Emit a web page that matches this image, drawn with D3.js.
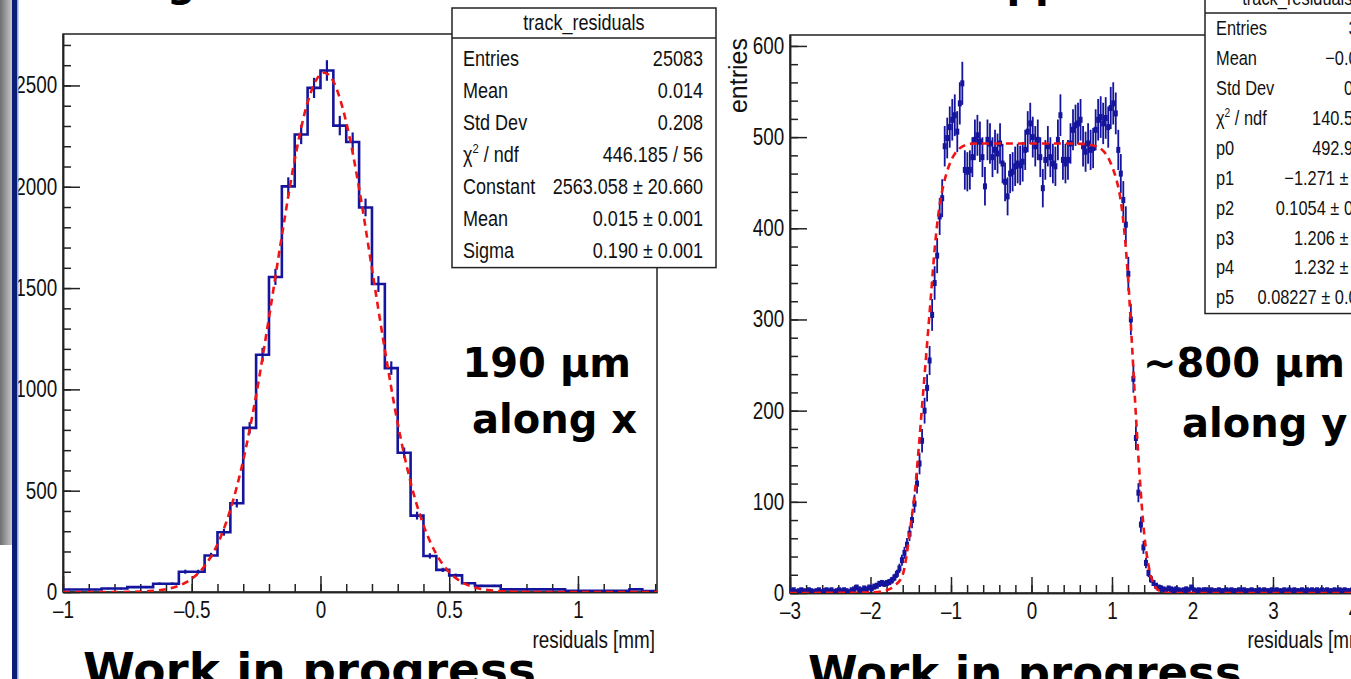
<!DOCTYPE html>
<meta charset="utf-8">
<head>
    <title>track residuals along x and y</title>
    <script type="text/javascript" src="https://cdn.jsdelivr.net/npm/d3@7/dist/d3.min.js"></script>
    <style>
        body { margin: 0; background: #fff; overflow: hidden; }
        .narrow { font-family: "Liberation Sans", Arial, sans-serif; fill: #111; }
        .axis text { font-family: "Liberation Sans", Arial, sans-serif; font-size: 23px; fill: #111; }
        .axis path, .axis line { stroke: #222; stroke-width: 1.5px; }
        .big { font-family: "DejaVu Sans", Verdana, sans-serif; font-weight: bold; fill: #000; }
    </style>
</head>
<body>
<svg id="slide" width="1351" height="679"></svg>
<script>
// ---- left histogram: residuals along x, bins of 0.05 from -1
const leftStart = -1, leftWidth = 0.05;
const leftCounts = [12, 12, 12, 17, 17, 24, 24, 41, 41, 100, 100, 180, 295, 438, 810, 1171,
    1555, 2002, 2258, 2488, 2574, 2302, 2221, 1898, 1520, 1105, 687, 377, 178, 109, 82, 43,
    30, 30, 13, 13, 13, 13, 13, 6, 6, 6, 6, 6, 13, 5];
// gaussian fit as it appears on the plot
const leftFitX = [-1, -0.9, -0.8, -0.7, -0.65, -0.6, -0.55, -0.5, -0.45, -0.4, -0.35, -0.3, -0.25, -0.2,
    -0.15, -0.1, -0.05, 0, 0.015, 0.05, 0.1, 0.15, 0.2, 0.25, 0.3, 0.35, 0.4, 0.45, 0.5, 0.55, 0.6,
    0.65, 0.7, 0.8, 0.9, 1.0, 1.1, 1.2, 1.31];
const leftFitY = [0, 0, 0, 2, 6, 14, 31, 65, 128, 236, 406, 650, 971, 1354,
    1758, 2134, 2417, 2555, 2563, 2520, 2319, 1993, 1595, 1196, 832, 542, 330, 187, 98, 48, 22,
    10, 4, 0.5, 0, 0, 0, 0, 0];
const leftStatLabels = ["Entries", "Mean", "Std Dev", "chi", "Constant", "Mean", "Sigma"];
const leftStatValues = ["25083", "0.014", "0.208", "446.185 / 56", "2563.058 ± 20.660", "0.015 ± 0.001", "0.190 ± 0.001"];

// ---- right histogram: residuals along y, bins of 1/32 from -3
const rightStart = -3, rightWidth = 1 / 32;
const rightCounts = [
    2, 3, 1, 2, 3, 2, 1, 3, 2, 1, 2, 3, 1, 2, 3, 2, 3, 1, 2, 3,
    2, 3, 2, 1, 3, 4, 6, 4, 3, 5, 4, 6, 5, 7, 8, 10, 11, 10,
    11, 12, 14, 17, 21, 27, 36, 44, 53, 65, 80, 98, 120, 142, 167, 200, 225, 255, 305, 340, 370,
    413, 433, 490, 499, 511, 519, 524, 506, 537, 559, 464, 462, 464, 478, 497, 502, 495, 478,
    446, 497, 493, 478, 486, 482, 493, 471, 451, 435, 460, 462, 468, 471, 469, 473, 486, 506,
    515, 500, 490, 497, 478, 444, 475, 490, 478, 471, 468, 497, 524, 475, 471, 475, 493, 508,
    513, 515, 519, 490, 484, 493, 486, 488, 508, 519, 522, 515, 521, 511, 532, 537, 526, 486,
    460, 431, 404,
    350, 300, 235, 170, 110, 75, 50, 33, 22, 15, 11, 8, 6, 5, 4,
    3, 5, 4, 3, 4, 3, 2, 3, 4, 3, 6, 3, 2, 3, 2, 3, 3, 2, 3, 2,
    2, 3, 2, 2, 3, 2, 3, 2, 2, 3, 2, 3, 2, 2, 3, 2, 2, 3, 2, 3,
    2, 2, 3, 2, 3, 2, 2, 3, 2, 3, 2, 3, 2, 2, 3, 2, 3, 2, 3, 2,
    3, 2, 3, 2, 3, 2, 2, 3, 2, 3, 2, 3, 2, 2, 3];
const rightFitX = [-3, -2, -1.8, -1.7, -1.6, -1.5, -1.45, -1.4, -1.35, -1.3, -1.25, -1.2, -1.15,
    -1.1, -1.05, -1.0, -0.95, -0.9, -0.85, -0.8, -0.7, -0.5, 0, 0.5, 0.7, 0.8, 0.85, 0.9, 0.95, 1.0,
    1.05, 1.1, 1.15, 1.2, 1.25, 1.3, 1.35, 1.4, 1.45, 1.5, 1.55, 1.6, 1.7, 4.23];
const rightFitY = [0, 0.5, 3, 8, 20, 75, 110, 160, 215, 270, 325, 380, 420,
    445, 462, 474, 482, 487, 490, 492, 493, 493, 493, 493, 492, 490, 488, 484, 478, 468,
    455, 435, 400, 345, 270, 190, 120, 65, 32, 14, 5, 2, 0, 0];
const rightStatLabels = ["Entries", "Mean", "Std Dev", "chi", "p0", "p1", "p2", "p3", "p4", "p5"];
const rightStatValues = ["35847", "−0.01042", "0.7835", "140.5 / 146", "492.9 ± 1.7", "−1.271 ± 0.003",
    "0.1054 ± 0.0021", "1.206 ± 0.003", "1.232 ± 0.003", "0.08227 ± 0.00221"];

const blue = "#14149c", red = "#f01414";
const NARROW = 0.82;
const svg = d3.select("#slide");
const minus = d => (d < 0 ? "–" + Math.abs(d) : String(d));

// scales
const xL = d3.scaleLinear().domain([-1, 1.307]).range([63, 657]);
const yL = d3.scaleLinear().domain([0, 2754]).range([592, 34]);
const xR = d3.scaleLinear().domain([-3, 4.23]).range([790, 1372]);
const yR = d3.scaleLinear().domain([0, 612]).range([593, 35]);

// condensed helvetica-like text
function ntext(parent, x, y, anchor, size, str) {
    return parent.append("text").attr("class", "narrow")
        .attr("transform", `translate(${x},${y}) scale(${NARROW},1)`)
        .attr("text-anchor", anchor).style("font-size", size + "px").text(str);
}

function frame(x, y, id) {
    svg.append("clipPath").attr("id", id).append("rect")
        .attr("x", x.range()[0]).attr("y", y.range()[1])
        .attr("width", x.range()[1] - x.range()[0]).attr("height", y.range()[0] - y.range()[1]);
    svg.append("rect")
        .attr("x", x.range()[0]).attr("y", y.range()[1])
        .attr("width", x.range()[1] - x.range()[0]).attr("height", y.range()[0] - y.range()[1])
        .attr("fill", "none").attr("stroke", "#222").attr("stroke-width", 1.5);
}

function axes(x, y, xMajor, xMinor, yMajor, yMinor) {
    const y0 = y.range()[0], x0 = x.range()[0];
    const xd = x.domain(), yd = y.domain();
    const between = (a, b, s) => d3.range(Math.ceil(a / s - 1e-9), Math.floor(b / s + 1e-9) + 1).map(i => +(i * s).toFixed(4));
    svg.append("g").attr("class", "axis").attr("transform", `translate(0,${y0})`)
        .call(d3.axisBottom(x).tickValues(between(xd[0], xd[1], xMinor)).tickSize(-8).tickSizeOuter(0).tickFormat(""));
    svg.append("g").attr("class", "axis").attr("transform", `translate(0,${y0})`)
        .call(d3.axisBottom(x).tickValues(between(xd[0], xd[1], xMajor)).tickSize(-16).tickSizeOuter(0)
            .tickPadding(10).tickFormat(minus))
        .selectAll("text").attr("transform", `scale(${NARROW},1)`);
    svg.append("g").attr("class", "axis").attr("transform", `translate(${x0},0)`)
        .call(d3.axisLeft(y).tickValues(between(yd[0], yd[1], yMinor)).tickSize(-8).tickSizeOuter(0).tickFormat(""));
    svg.append("g").attr("class", "axis").attr("transform", `translate(${x0},0)`)
        .call(d3.axisLeft(y).tickValues(between(yd[0], yd[1], yMajor)).tickSize(-17).tickSizeOuter(0)
            .tickPadding(7).tickFormat(d => String(d)))
        .selectAll("text").attr("transform", `scale(${NARROW},1)`);
}

function fitCurve(x, y, fx, fy, clip) {
    svg.append("path")
        .datum(fx.map((v, i) => [v, fy[i]]))
        .attr("clip-path", `url(#${clip})`)
        .attr("fill", "none").attr("stroke", red).attr("stroke-width", 2.6)
        .attr("stroke-dasharray", "7,5")
        .attr("d", d3.line().x(d => x(d[0])).y(d => y(d[1])).curve(d3.curveMonotoneX));
}

function statsBox(bx, by, bw, titleY, rowY0, rowStep, size, title, labels, values) {
    const g = svg.append("g");
    const h = rowY0 + rowStep * (labels.length - 1) + rowStep * 0.55 - by;
    g.append("rect").attr("x", bx).attr("y", by).attr("width", bw).attr("height", h)
        .attr("fill", "#fff").attr("stroke", "#222").attr("stroke-width", 1.5);
    g.append("line").attr("x1", bx).attr("x2", bx + bw).attr("y1", titleY + 8).attr("y2", titleY + 8)
        .attr("stroke", "#222").attr("stroke-width", 1.5);
    ntext(g, bx + bw / 2, titleY, "middle", size, title);
    labels.forEach((lab, i) => {
        const yy = rowY0 + i * rowStep + size * 0.36;
        if (lab === "chi") {
            const t = ntext(g, bx + 11, yy, "start", size, null);
            t.append("tspan").text("χ");
            t.append("tspan").attr("dy", -size * 0.4).style("font-size", (size * 0.62) + "px").text("2");
            t.append("tspan").attr("dy", size * 0.4).text(" / ndf");
        } else ntext(g, bx + 11, yy, "start", size, lab);
        ntext(g, bx + bw - 13, yy, "end", size, values[i]);
    });
}

// ---------- slide title remnants (cut at the top edge)
svg.append("text").attr("class", "big").attr("x", 5).attr("y", -4).style("font-size", "40px").text("Tracking");
svg.append("text").attr("class", "big").attr("x", 978).attr("y", -3).style("font-size", "40px").text("upper");

// ---------- left panel
frame(xL, yL, "clipL");
axes(xL, yL, 0.5, 0.1, 500, 100);
const lBins = leftCounts.map((v, i) => ({ lo: leftStart + i * leftWidth, hi: leftStart + (i + 1) * leftWidth, v: v }));
const stepPts = [];
lBins.forEach(b => { stepPts.push([b.lo, b.v]); stepPts.push([b.hi, b.v]); });
svg.append("path").datum(stepPts).attr("clip-path", "url(#clipL)")
    .attr("fill", "none").attr("stroke", blue).attr("stroke-width", 2.6)
    .attr("d", d3.line().x(d => xL(d[0])).y(d => yL(d[1])));
svg.append("g").attr("clip-path", "url(#clipL)").selectAll("line").data(lBins).join("line")
    .attr("x1", d => xL((d.lo + d.hi) / 2)).attr("x2", d => xL((d.lo + d.hi) / 2))
    .attr("y1", d => yL(d.v - Math.sqrt(d.v))).attr("y2", d => yL(d.v + Math.sqrt(d.v)))
    .attr("stroke", blue).attr("stroke-width", 2.2);
fitCurve(xL, yL, leftFitX, leftFitY, "clipL");
ntext(svg, 655, 648, "end", 23, "residuals [mm]");
statsBox(452, 8, 264, 30, 58, 32, 22, "track_residuals", leftStatLabels, leftStatValues);
svg.append("text").attr("class", "big").attr("x", 631).attr("y", 377).attr("text-anchor", "end")
    .style("font-size", "40px").text("190 µm");
svg.append("text").attr("class", "big").attr("x", 637).attr("y", 433).attr("text-anchor", "end")
    .style("font-size", "40px").text("along x");
svg.append("text").attr("class", "big").attr("x", 83).attr("y", 686)
    .style("font-size", "47px").text("Work in progress");

// ---------- right panel
frame(xR, yR, "clipR");
axes(xR, yR, 1, 0.2, 100, 20);
const rBins = rightCounts.map((v, i) => ({ lo: rightStart + i * rightWidth, hi: rightStart + (i + 1) * rightWidth, v: v }));
const rg = svg.append("g").attr("clip-path", "url(#clipR)");
rg.selectAll("line.h").data(rBins).join("line").attr("class", "h")
    .attr("x1", d => xR(d.lo)).attr("x2", d => xR(d.hi))
    .attr("y1", d => yR(d.v)).attr("y2", d => yR(d.v))
    .attr("stroke", blue).attr("stroke-width", 1.6);
rg.selectAll("line.e").data(rBins).join("line").attr("class", "e")
    .attr("x1", d => xR((d.lo + d.hi) / 2)).attr("x2", d => xR((d.lo + d.hi) / 2))
    .attr("y1", d => yR(d.v - Math.sqrt(d.v))).attr("y2", d => yR(d.v + Math.sqrt(d.v)))
    .attr("stroke", blue).attr("stroke-width", 1.8);
rg.selectAll("rect").data(rBins).join("rect")
    .attr("x", d => xR((d.lo + d.hi) / 2) - 2).attr("y", d => yR(d.v) - 3)
    .attr("width", 4).attr("height", 6).attr("fill", blue);
fitCurve(xR, yR, rightFitX, rightFitY, "clipR");
ntext(svg, 1370, 648, "end", 23, "residuals [mm]");
svg.append("text").attr("transform", "translate(747,38) rotate(-90)").attr("text-anchor", "end")
    .style("font-family", "'Liberation Sans', Arial, sans-serif").style("font-size", "25px").attr("fill", "#111")
    .text("entries");
statsBox(1205, -24, 202, 5, 28, 29.9, 20, "track_residuals_y", rightStatLabels, rightStatValues);
svg.append("text").attr("class", "big").attr("x", 1143).attr("y", 377)
    .style("font-size", "40px").text("~800 µm");
svg.append("text").attr("class", "big").attr("x", 1182).attr("y", 437)
    .style("font-size", "40px").text("along y");
svg.append("text").attr("class", "big").attr("x", 808).attr("y", 688)
    .style("font-size", "45px").text("Work in progress");

// ---------- slide border on the left
const grad = svg.append("defs").append("linearGradient").attr("id", "edge");
grad.append("stop").attr("offset", "0").attr("stop-color", "#6e6e6e");
grad.append("stop").attr("offset", "1").attr("stop-color", "#c8c8c8");
svg.append("rect").attr("x", 0).attr("y", 0).attr("width", 12).attr("height", 545).attr("fill", "url(#edge)");
svg.append("rect").attr("x", 12).attr("y", 0).attr("width", 5).attr("height", 679).attr("fill", "#0b1e78");
svg.append("rect").attr("x", 17).attr("y", 0).attr("width", 1.5).attr("height", 679).attr("fill", "#8fa6e0");
</script>
</body>
